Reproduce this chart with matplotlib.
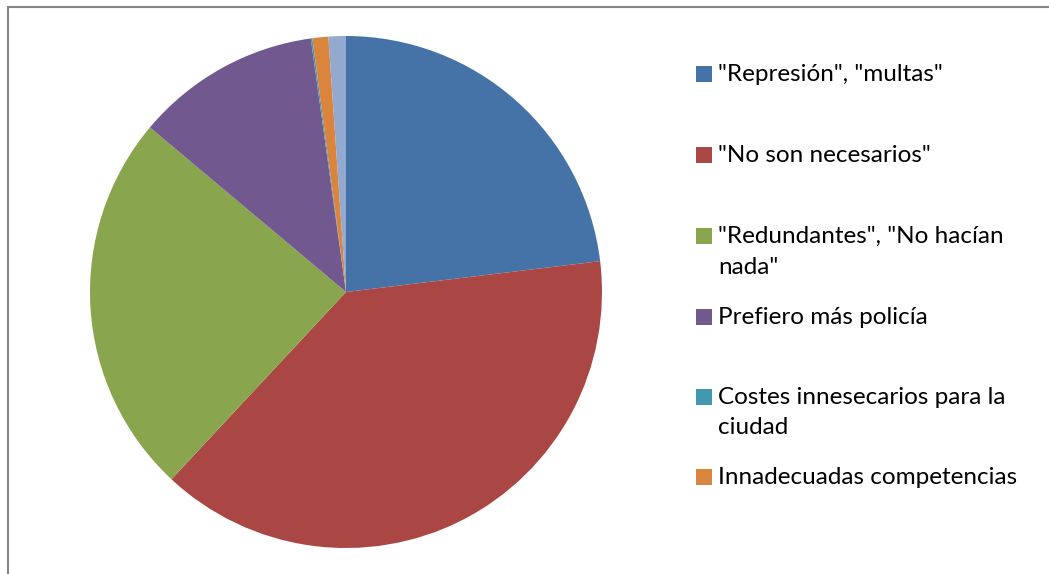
import matplotlib
matplotlib.use("Agg")
import matplotlib.pyplot as plt
from matplotlib.patches import Rectangle

# --- datos (porcentaje de respuestas) ---
categorias = ['"Represión", "multas"',
              '"No son necesarios"',
              '"Redundantes", "No hacían\nnada"',
              'Prefiero más policía',
              'Costes innesecarios para la\nciudad',
              'Innadecuadas competencias',
              'Otros']
valores = [23.1, 38.9, 24.2, 11.7, 0.1, 1.0, 1.1]
colores = ['#4572A7', '#AA4643', '#89A54E', '#71588F',
           '#4198AF', '#DB843D', '#93A9CF']
# ------------------------------------------

plt.rcParams['font.family'] = ['Lato', 'DejaVu Sans']

W, H = 1049, 574
fig = plt.figure(figsize=(W / 100, H / 100), dpi=100)

# marco gris del área del gráfico
fig.patches.append(Rectangle((8 / W, -0.05), 1.1, (H - 7) / H + 0.05,
                             transform=fig.transFigure, fill=False,
                             edgecolor='#868686', linewidth=1.5))

# pastel: centro (346, 292), radio 256 px
cx, cy, r = 346, 292, 256
ax = fig.add_axes([(cx - r) / W, (H - cy - r) / H, 2 * r / W, 2 * r / H])
ax.pie(valores, colors=colores, startangle=90, counterclock=False,
       radius=1, wedgeprops=dict(linewidth=0))
ax.set_xlim(-1, 1)
ax.set_ylim(-1, 1)
ax.set_aspect('equal')
ax.axis('off')

# leyenda (solo las seis primeras categorías), una línea de texto cada vez
y_leyenda = [74, 155, 236, 317, 397, 477]
interlineado = 31
for nombre, color, y in zip(categorias[:6], colores[:6], y_leyenda):
    fig.patches.append(Rectangle((696 / W, (H - y - 8) / H), 16 / W, 16 / H,
                                 transform=fig.transFigure,
                                 facecolor=color, edgecolor='none'))
    for i, linea in enumerate(nombre.split('\n')):
        fig.text(718 / W, (H - y - i * interlineado) / H, linea,
                 fontsize=17.5, color='black', va='center', ha='left')

fig.savefig("out.png", dpi=100)
